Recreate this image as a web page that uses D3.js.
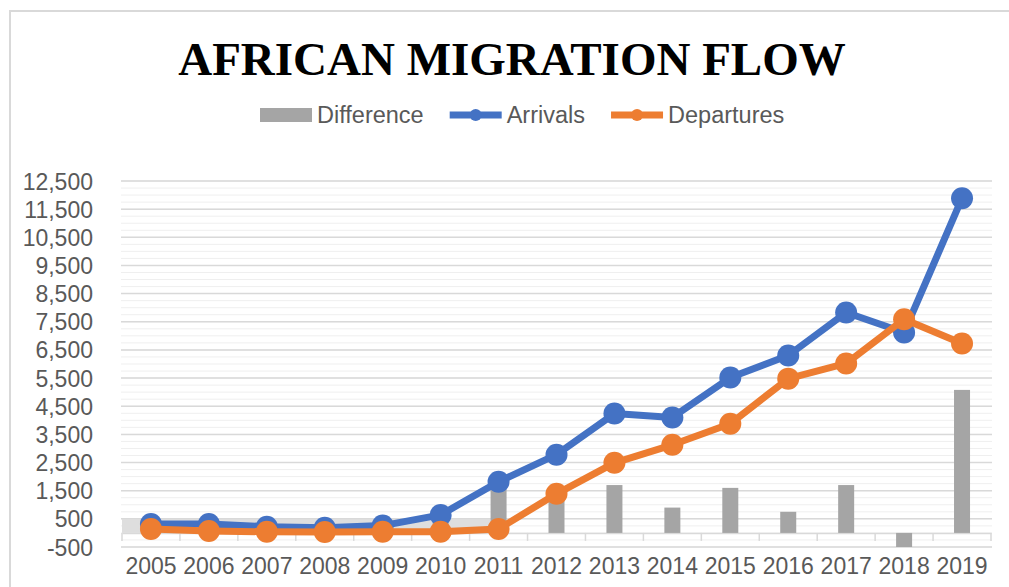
<!DOCTYPE html>
<html>
<head>
<meta charset="utf-8">
<script src="https://cdn.jsdelivr.net/npm/d3@7"></script>
<style>
  body { margin: 0; background: #fff; }
  svg { display: block; }
  text { font-family: "Liberation Sans", Arial, sans-serif; }
</style>
</head>
<body>
<svg id="chart" width="1009" height="587"></svg>
<script>
// data
var years = ["2005","2006","2007","2008","2009","2010","2011","2012","2013","2014","2015","2016","2017","2018","2019"];
var arrivals   = [320, 320, 220, 180, 260, 640, 1820, 2780, 4240, 4100, 5520, 6300, 7830, 7120, 11890];
var departures = [140, 70, 40, 30, 40, 40, 140, 1390, 2490, 3130, 3880, 5480, 6020, 7590, 6730];
var difference = [180, 250, 180, 150, 220, 600, 1680, 1390, 1700, 900, 1600, 750, 1700, -500, 5080];
var yTicks = [-500, 500, 1500, 2500, 3500, 4500, 5500, 6500, 7500, 8500, 9500, 10500, 11500, 12500];

var blue = "#4472C4", orange = "#ED7D31", gray = "#A5A5A5", textColor = "#595959";

var svg = d3.select("#chart");

// outer frame (left and top edge only are visible)
svg.append("path")
  .attr("d", "M10,587 V11 H1009")
  .attr("fill", "none")
  .attr("stroke", "#d9d9d9")
  .attr("stroke-width", 2);

// title
svg.append("text")
  .attr("x", 512).attr("y", 75)
  .attr("text-anchor", "middle")
  .style("font-family", "'Liberation Serif', 'Times New Roman', serif")
  .style("font-weight", "bold")
  .style("font-size", "47px")
  .attr("fill", "#000")
  .text("AFRICAN MIGRATION FLOW");

var xScale = d3.scaleBand().domain(years).range([122, 991]).paddingInner(0).paddingOuter(0);
var yScale = d3.scaleLinear().domain([-500, 12500]).range([547, 181]);
var barW = 16;

var plot = svg.append("g");

// minor gridlines
plot.selectAll("line.minor")
  .data(d3.range(-500, 12501, 250))
  .enter().append("line")
  .attr("class", "minor")
  .attr("x1", 121).attr("x2", 992)
  .attr("y1", function(d) { return yScale(d); })
  .attr("y2", function(d) { return yScale(d); })
  .attr("stroke", "#efefef")
  .attr("stroke-width", 1);

// major gridlines
plot.selectAll("line.major")
  .data(yTicks)
  .enter().append("line")
  .attr("class", "major")
  .attr("x1", 121).attr("x2", 992)
  .attr("y1", function(d) { return yScale(d); })
  .attr("y2", function(d) { return yScale(d); })
  .attr("stroke", "#d9d9d9")
  .attr("stroke-width", 1.5);

// light band at the bottom left of the plot
plot.append("rect")
  .attr("x", xScale.range()[0])
  .attr("y", yScale(500))
  .attr("width", xScale("2011") + xScale.bandwidth() / 2 - barW / 2 - xScale.range()[0])
  .attr("height", yScale(0) - yScale(500))
  .attr("fill", "#dedede");

// y axis labels (plain hyphen for the negative tick, like Excel)
var fmt = d3.format(",");
var yAxis = d3.axisLeft(yScale).tickValues(yTicks).tickSize(0).tickPadding(0)
  .tickFormat(function(d) { return fmt(d).replace("\u2212", "-"); });
svg.append("g")
  .attr("transform", "translate(93,0)")
  .call(yAxis)
  .call(function(g) { g.select(".domain").remove(); })
  .selectAll("text")
  .attr("fill", textColor)
  .style("font-size", "23px")
  .attr("dy", "0.35em");

// x axis at zero
var xAxis = d3.axisBottom(xScale).tickSize(0).tickPadding(0);
var xg = svg.append("g")
  .attr("transform", "translate(0," + yScale(0) + ")")
  .call(xAxis);
xg.select(".domain").attr("stroke", "#d9d9d9").attr("stroke-width", 1.5);
xg.selectAll("text")
  .attr("fill", textColor)
  .style("font-size", "23px")
  .attr("y", 0)
  .attr("dy", "41px");
xg.selectAll("line.band-tick")
  .data(d3.range(years.length + 1))
  .enter().append("line")
  .attr("class", "band-tick")
  .attr("x1", function(i) { return xScale.range()[0] + i * xScale.step(); })
  .attr("x2", function(i) { return xScale.range()[0] + i * xScale.step(); })
  .attr("y1", 0).attr("y2", 8)
  .attr("stroke", "#d9d9d9")
  .attr("stroke-width", 1.5);

// difference bars
svg.selectAll("rect.diff")
  .data(difference)
  .enter().append("rect")
  .attr("class", "diff")
  .attr("x", function(d, i) { return xScale(years[i]) + xScale.bandwidth() / 2 - barW / 2; })
  .attr("width", barW)
  .attr("y", function(d) { return yScale(Math.max(0, d)); })
  .attr("height", function(d) { return Math.abs(yScale(d) - yScale(0)); })
  .attr("fill", gray);

// lines + markers
function drawSeries(values, color) {
  var line = d3.line()
    .x(function(d, i) { return xScale(years[i]) + xScale.bandwidth() / 2; })
    .y(function(d) { return yScale(d); });
  var g = svg.append("g");
  g.append("path")
    .datum(values)
    .attr("d", line)
    .attr("fill", "none")
    .attr("stroke", color)
    .attr("stroke-width", 7)
    .attr("stroke-linejoin", "round");
  g.selectAll("circle")
    .data(values)
    .enter().append("circle")
    .attr("cx", function(d, i) { return xScale(years[i]) + xScale.bandwidth() / 2; })
    .attr("cy", function(d) { return yScale(d); })
    .attr("r", 11)
    .attr("fill", color);
}
drawSeries(arrivals, blue);
drawSeries(departures, orange);

// legend
var legendItems = [
  { name: "Difference", color: gray, type: "bar" },
  { name: "Arrivals", color: blue, type: "line" },
  { name: "Departures", color: orange, type: "line" }
];
var legend = svg.append("g").attr("transform", "translate(260,115)");
var lx = 0;
legendItems.forEach(function(item) {
  var g = legend.append("g").attr("transform", "translate(" + lx + ",0)");
  if (item.type == "bar") {
    g.append("rect").attr("x", 0).attr("y", -7).attr("width", 52).attr("height", 14).attr("fill", item.color);
  } else {
    g.append("line").attr("x1", 0).attr("x2", 52).attr("y1", 0).attr("y2", 0)
      .attr("stroke", item.color).attr("stroke-width", 7);
    g.append("circle").attr("cx", 26).attr("cy", 0).attr("r", 6).attr("fill", item.color);
  }
  var t = g.append("text")
    .attr("x", 57).attr("y", 0).attr("dy", "0.35em")
    .attr("fill", textColor)
    .style("font-size", "23.5px")
    .text(item.name);
  lx += 57 + t.node().getComputedTextLength() + 26;
});
</script>
</body>
</html>
